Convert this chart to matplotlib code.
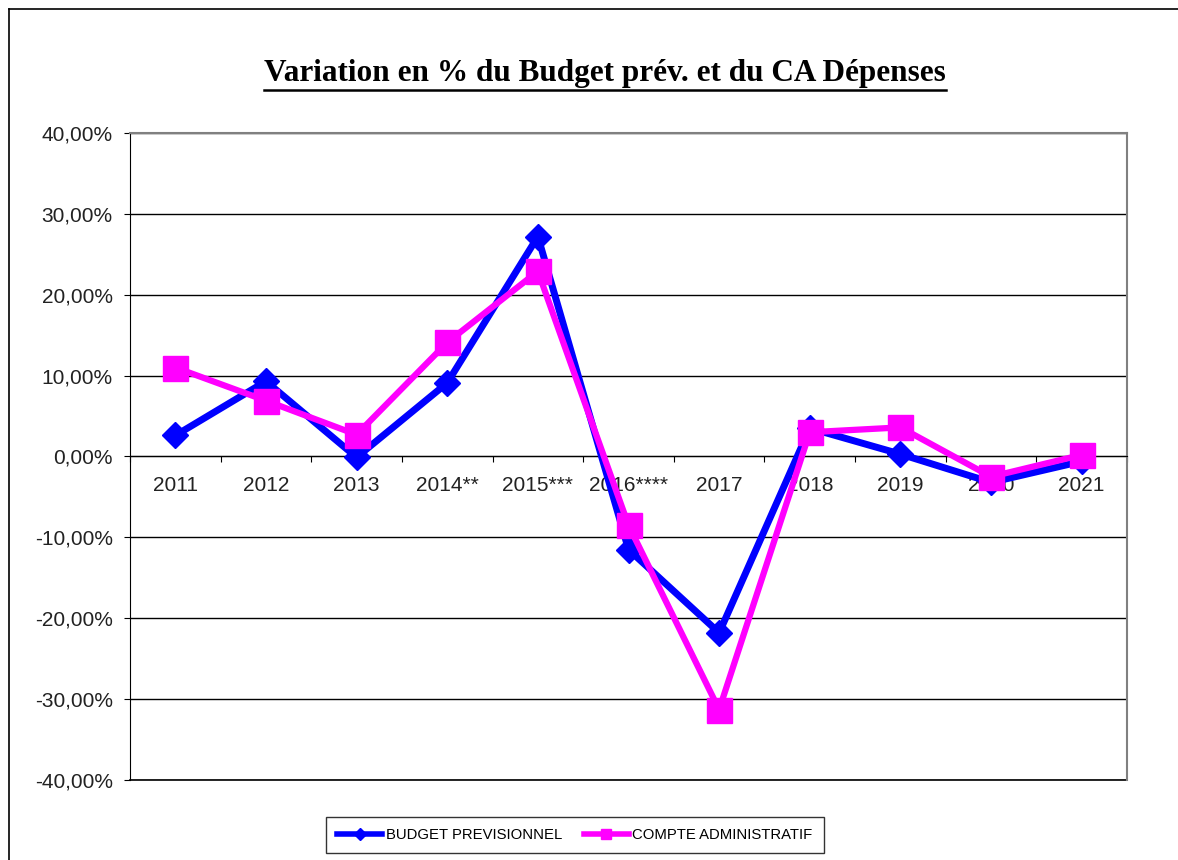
import matplotlib.pyplot as plt
import matplotlib.ticker as mticker
from matplotlib.lines import Line2D
import numpy as np

# data (percent)
years = ["2011", "2012", "2013", "2014**", "2015***", "2016****",
         "2017", "2018", "2019", "2020", "2021"]
budget_prev = [2.6, 9.3, -0.1, 9.1, 27.2, -11.5, -21.8, 3.5, 0.3, -3.2, -0.6]
compte_admin = [11.0, 6.9, 2.7, 14.1, 22.9, -8.5, -31.3, 3.0, 3.6, -2.5, 0.2]

title = "Variation en % du Budget prév. et du CA Dépenses"
label_bp = "BUDGET PREVISIONNEL"
label_ca = "COMPTE ADMINISTRATIF"

plt.rcParams['font.family'] = ['Liberation Sans', 'DejaVu Sans']

W, H = 1178, 860
fig = plt.figure(figsize=(W / 100, H / 100), dpi=100)
ax = fig.add_axes([130 / W, 1 - 780 / H, (1127 - 130) / W, (780 - 133) / H])

x = np.arange(len(years))
ax.plot(x, budget_prev, color="#0000ff", lw=5, marker="D", ms=13,
        mec="#0000ff", zorder=3, clip_on=False)
ax.plot(x, compte_admin, color="#ff00ff", lw=4.5, marker="s", ms=18,
        mec="#ff00ff", zorder=4, clip_on=False)

ax.set_xlim(-0.5, len(years) - 0.5)
ax.set_ylim(-40, 40)
ax.yaxis.set_major_locator(mticker.MultipleLocator(10))
ax.yaxis.set_major_formatter(mticker.FuncFormatter(
    lambda v, p: f"{v:.2f}%".replace(".", ",")))
ax.grid(axis="y", color="black", lw=1)
ax.axhline(-40, color="black", lw=1.2, clip_on=False, zorder=1)
ax.set_axisbelow(True)

# category axis crosses at zero
ax.spines["bottom"].set_position(("data", 0))
ax.spines["bottom"].set_color("black")
ax.spines["left"].set_color("black")
ax.spines["top"].set_color("#808080")
ax.spines["right"].set_color("#808080")
ax.spines["top"].set_linewidth(1.5)
ax.spines["right"].set_linewidth(1.5)

ax.set_xticks(np.arange(-0.5, len(years), 1.0))
ax.set_xticklabels([])
ax.set_xticks(x, minor=True)
ax.set_xticklabels(years, minor=True)
ax.tick_params(axis="x", which="major", direction="out", length=4.5,
               color="black")
ax.tick_params(axis="x", which="minor", length=0, pad=14, labelsize=15,
               labelcolor="#222222")
ax.tick_params(axis="y", direction="out", length=4.5, pad=8, labelsize=15,
               color="black", labelcolor="#222222")

# title with underline
t = fig.text(605 / W, 1 - 74 / H, title, ha="center", va="center",
             fontsize=22.5, fontweight="bold", family="Liberation Serif")
fig.canvas.draw()
bb = t.get_window_extent().transformed(fig.transFigure.inverted())
fig.add_artist(Line2D([bb.x0, bb.x1], [bb.y0 - 0.002, bb.y0 - 0.002],
                      color="black", lw=1.8))

# outer chart frame (top and left visible)
fig.add_artist(Line2D([9 / W, 1], [1 - 9 / H, 1 - 9 / H], color="black", lw=1.2))
fig.add_artist(Line2D([9 / W, 9 / W], [0, 1 - 9 / H], color="black", lw=1.2))

handles = [
    Line2D([], [], color="#0000ff", lw=4, marker="D", ms=6),
    Line2D([], [], color="#ff00ff", lw=4, marker="s", ms=7),
]
leg = fig.legend(handles, [label_bp, label_ca], loc="center",
                 bbox_to_anchor=(575 / W, 1 - 835 / H), ncol=2,
                 fontsize=10.7, frameon=True, fancybox=False,
                 edgecolor="black", handlelength=3.0, columnspacing=1.5,
                 handletextpad=0.25, borderpad=0.75)
leg.get_frame().set_linewidth(1)

fig.savefig("out.png", dpi=100)
